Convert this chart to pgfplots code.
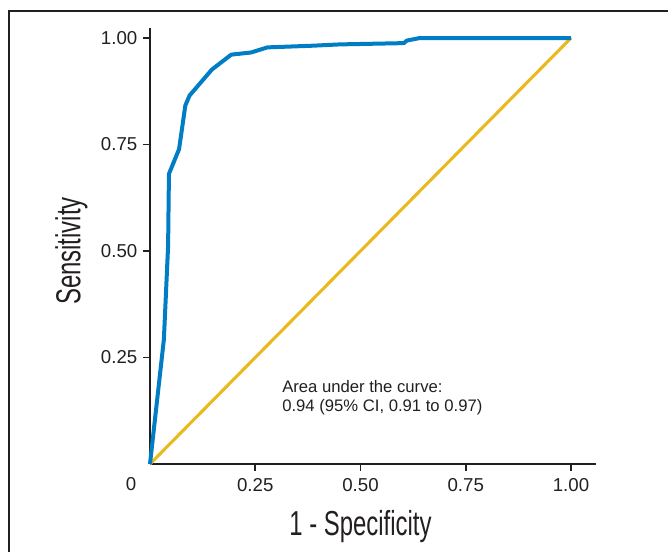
\documentclass[border=0pt]{standalone}
\usepackage{fontspec}
\setmainfont{Liberation Sans}
\newfontfamily\condfont{Liberation Sans}[FakeStretch=0.69]
\usepackage{pgfplots}
\pgfplotsset{compat=1.18}

\definecolor{rocblue}{RGB}{0,125,197}
\definecolor{diaggold}{RGB}{233,185,30}
\definecolor{ink}{RGB}{35,31,32}

\begin{document}
\begin{tikzpicture}
\begin{axis}[
    at={(0pt,0pt)}, anchor=south west,
    scale only axis,
    width=334.4pt, height=327pt,
    xmin=0, xmax=1.059,
    ymin=0, ymax=1.0235,
    clip=false,
    axis lines=left,
    axis line style={ink, line width=1.5pt, -},
    xtick={0.25,0.5,0.75,1},
    ytick={0.25,0.5,0.75,1},
    xticklabels={0.25,0.50,0.75,1.00},
    yticklabels={0.25,0.50,0.75,1.00},
    tick style={ink, line width=1.2pt},
    tick align=outside,
    major tick length=5pt,
    ticklabel style={font=\fontsize{14}{16}\selectfont, text=ink},
    xticklabel style={yshift=-2pt},
    yticklabel style={xshift=-1pt},
    xlabel={1 - Specificity},
    ylabel={Sensitivity},
    label style={font=\condfont\fontsize{26}{30}\selectfont, text=ink},
    xlabel style={at={(axis description cs:0.4721,0)}, anchor=center, yshift=-47pt},
    ylabel style={at={(axis description cs:0,0.4885)}, anchor=center, yshift=59pt},
]

% chance line
\addplot[diaggold, line width=2.3pt] coordinates {(0,0) (1,1)};

% ROC curve
\addplot[rocblue, line width=3pt, line join=round] coordinates {
    (0,0) (0.033,0.293) (0.043,0.512) (0.045,0.681) (0.069,0.739)
    (0.084,0.842) (0.094,0.865) (0.147,0.926) (0.193,0.961)
    (0.240,0.966) (0.279,0.978) (0.388,0.982) (0.451,0.985)
    (0.603,0.988) (0.610,0.994) (0.641,1.0) (1.0,1.0)
};

\node[font=\fontsize{14}{16}\selectfont, text=ink] at (axis cs:0,0) [xshift=-14.25pt, yshift=-15pt] {0};

\node[anchor=base west, font=\fontsize{12.5}{15}\selectfont, text=ink, inner sep=0pt]
    at (axis cs:0.3135,0.167) {Area under the curve:};
\node[anchor=base west, font=\fontsize{12.5}{15}\selectfont, text=ink, inner sep=0pt]
    at (axis cs:0.3135,0.1224) {0.94 (95\% CI, 0.91 to 0.97)};
\end{axis}

% frame around the figure
\draw[ink, line width=1.5pt] (-105.75pt,-80pt) -- (-105.75pt,340.1pt) -- (420pt,340.1pt);

\pgfresetboundingbox
\path[use as bounding box] (-112.5pt,-65.25pt) rectangle (388.5pt,348pt);
\end{tikzpicture}
\end{document}
